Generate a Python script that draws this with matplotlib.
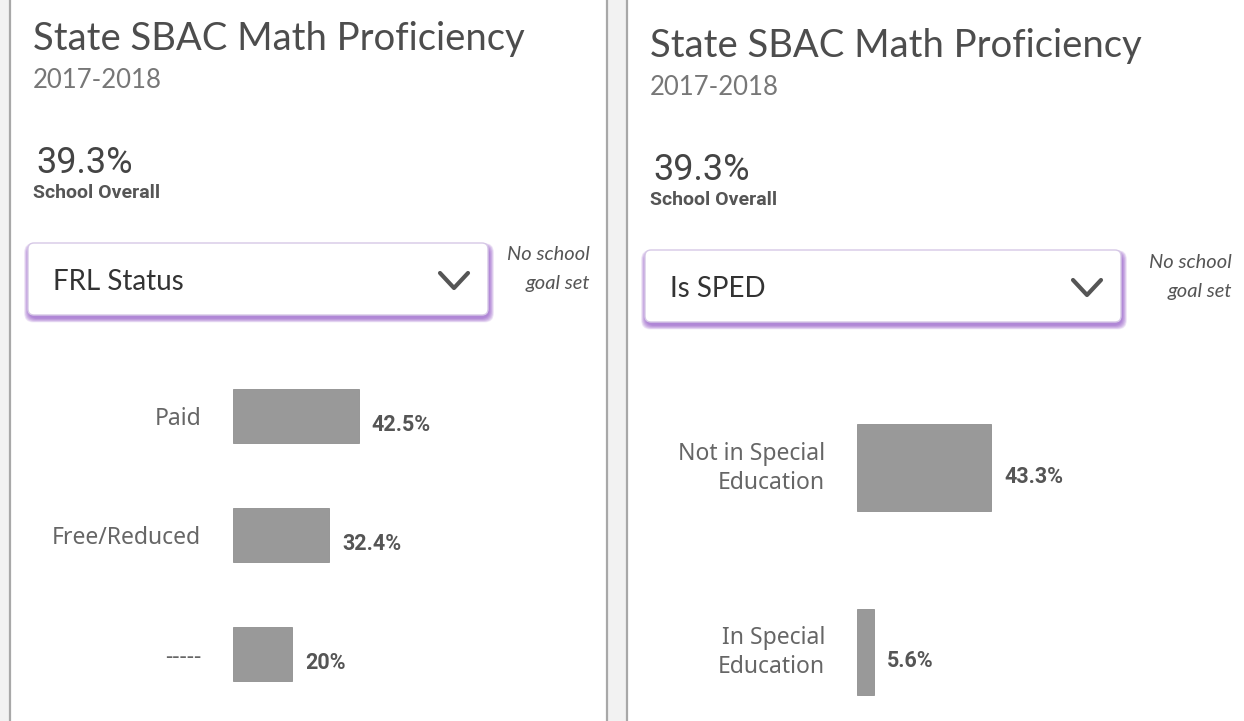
import matplotlib
matplotlib.use("Agg")
import matplotlib.pyplot as plt
import matplotlib.transforms as mtransforms
from matplotlib import font_manager
from matplotlib.patches import FancyBboxPatch, Rectangle

# data shown in the two panels
title = "State SBAC Math Proficiency"
year = "2017-2018"
overall = "39.3%"

frl_groups = ["Paid", "Free/Reduced", "-----"]
frl_values = [42.5, 32.4, 20]
frl_labels = ["42.5%", "32.4%", "20%"]

sped_groups = ["Not in Special\nEducation", "In Special\nEducation"]
sped_values = [43.3, 5.6]
sped_labels = ["43.3%", "5.6%"]

W, H = 1244, 721
installed = {f.name for f in font_manager.fontManager.ttflist}
narrow = "Liberation Sans Narrow" if "Liberation Sans Narrow" in installed else "Roboto"
main_font = "Lato"
label_font = "Noto Sans"

BAR = "#999999"
TEXT = "#4d4d4d"

fig = plt.figure(figsize=(W / 100, H / 100), dpi=100)

# background layer in pixel coordinates
bg = fig.add_axes([0, 0, 1, 1])
bg.set_xlim(0, W)
bg.set_ylim(H, 0)
bg.axis("off")

# panel borders
bg.add_patch(Rectangle((0, 0), 10, H, color="#f2f2f2", lw=0))
bg.add_patch(Rectangle((607, 0), 20, H, color="#f2f2f2", lw=0))
for x in (10, 607, 627):
    bg.plot([x, x], [0, H], color="#a8a8a8", lw=1.6)


def header(x0, y0, box_w, select_text, goal_x):
    """draws title, overall value and the dropdown of one panel"""
    bg.text(x0, y0 + 50, title, fontsize=27.5, family=main_font,
            color=TEXT, va="baseline")
    bg.text(x0, y0 + 88, year, fontsize=18.5, family=main_font,
            color="#777777", va="baseline")
    bg.text(x0 + 3, y0 + 173, overall, fontsize=26, family=narrow,
            color="#444444", va="baseline")
    bg.text(x0, y0 + 198, "School Overall", fontsize=14, family=narrow,
            weight="bold", color="#555555", va="baseline")

    # dropdown box with purple glow
    bx, by, bh = x0 - 5, y0 + 243, 72
    for i in range(8, 0, -1):
        bg.add_patch(FancyBboxPatch((bx - i * 0.6 + 1, by - i * 0.35 + 3),
                                    box_w + i * 1.2, bh + i * 0.9,
                                    boxstyle="round,pad=0,rounding_size=9",
                                    fc="#8e4fc6", ec="none", alpha=0.13))
    bg.add_patch(FancyBboxPatch((bx, by), box_w, bh,
                                boxstyle="round,pad=0,rounding_size=6",
                                fc="white", ec="#d6c8e6", lw=1))
    bg.text(bx + 25, by + 47, select_text, fontsize=20, family=main_font,
            color="#333333", va="baseline")
    cx = bx + box_w - 34
    bg.plot([cx - 14, cx, cx + 14], [by + 30, by + 45, by + 30],
            color="#555555", lw=3, solid_capstyle="round")

    bg.text(goal_x, y0 + 255, "No school", fontsize=14.5, family=main_font,
            style="italic", color="#555555", ha="right", va="center")
    bg.text(goal_x, y0 + 284, "goal set", fontsize=14.5, family=main_font,
            style="italic", color="#555555", ha="right", va="center")


def bar_panel(left_px, px_per_pct, top_px, row_px, ylim, groups, values,
              labels, height, label_shift):
    """horizontal bars of one panel, placed in pixels"""
    y_span = ylim[0] - ylim[1]
    ax = fig.add_axes([left_px / W,
                       1 - (top_px + y_span * row_px) / H,
                       100 * px_per_pct / W,
                       y_span * row_px / H])
    ax.patch.set_alpha(0)
    pos = list(range(len(groups)))
    ax.barh(pos, values, height=height, color=BAR, edgecolor="#8f8f8f",
            linewidth=0.6)
    ax.set_xlim(0, 100)
    ax.set_ylim(*ylim)
    ax.set_yticks(pos, groups, fontsize=16.5, family=label_font,
                  color="#666666", linespacing=1.3)
    ax.tick_params(axis="y", length=0, pad=23)
    # nudge group labels up a little, as in the original
    shift = mtransforms.ScaledTranslation(0, label_shift / 100,
                                          fig.dpi_scale_trans)
    for t in ax.get_yticklabels():
        t.set_transform(t.get_transform() + shift)
    ax.set_xticks([])
    for s in ax.spines.values():
        s.set_visible(False)
    for p, v, lab in zip(pos, values, labels):
        ax.annotate(lab, xy=(v, p), xytext=(13, -9),
                    textcoords="offset pixels", va="center", ha="left",
                    fontsize=15.5, family=narrow, weight="bold",
                    color="#555555")
    return ax


header(33, 0, 460, "FRL Status", 590)
header(650, 7, 476, "Is SPED", 1232)

bar_panel(233, 2.96, 356.5, 119, (2.5, -0.5), frl_groups, frl_values,
          frl_labels, 0.45, 0)
bar_panel(857, 3.1, 356.8, 184.5, (1.35, -0.6), sped_groups, sped_values,
          sped_labels, 0.47, 5)

fig.savefig("out.png", dpi=100)
